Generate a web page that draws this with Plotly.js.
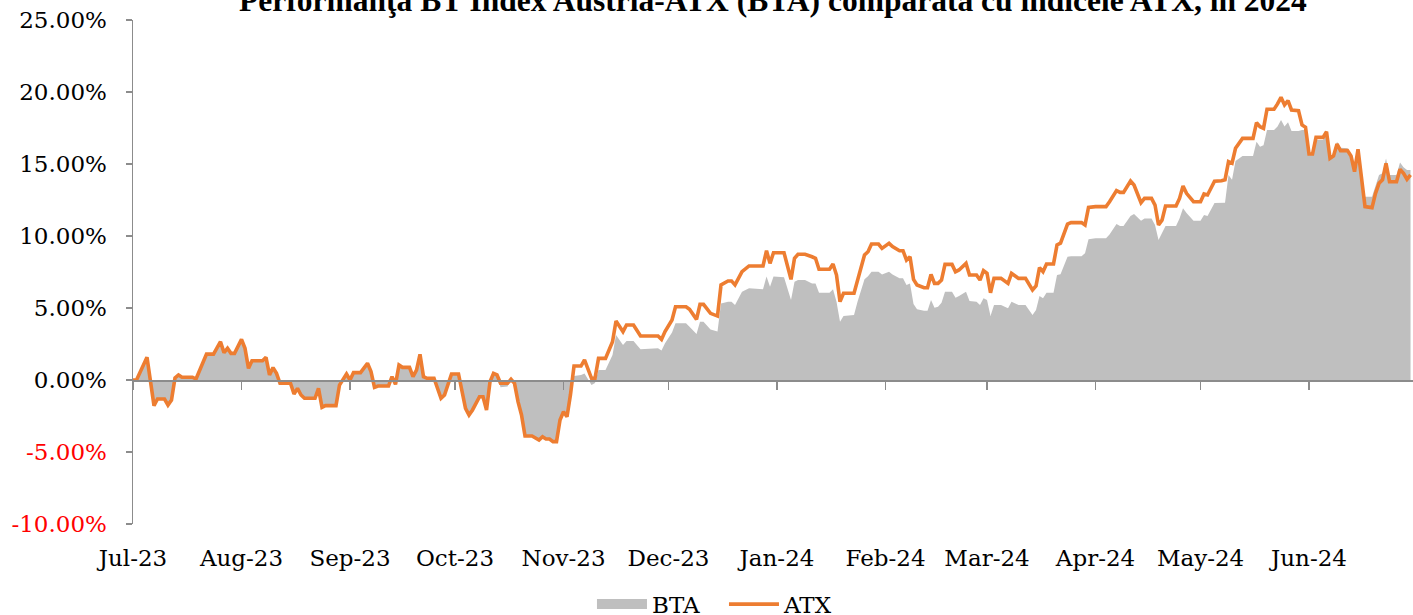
<!DOCTYPE html>
<html><head><meta charset="utf-8">
<script src="https://cdn.plot.ly/plotly-3.0.1.min.js"></script>
<style>html,body{margin:0;padding:0;background:#fff}#chart{width:1413px;height:615px}</style>
</head><body><div id="chart"></div>
<script>
const chartTitle = 'Performanţa BT Index Austria-ATX (BTA) comparată cu indicele ATX, în 2024';
const seriesNames = ['BTA', 'ATX'];

const dates = [
'2023-07-01','2023-07-02','2023-07-05','2023-07-07','2023-07-08','2023-07-10','2023-07-11','2023-07-12','2023-07-13','2023-07-14',
'2023-07-15','2023-07-18','2023-07-19','2023-07-21','2023-07-22','2023-07-24','2023-07-26','2023-07-27','2023-07-28','2023-07-29',
'2023-07-30','2023-08-01','2023-08-02','2023-08-03','2023-08-04','2023-08-07','2023-08-08','2023-08-09','2023-08-10','2023-08-11',
'2023-08-12','2023-08-15','2023-08-16','2023-08-17','2023-08-18','2023-08-19','2023-08-22','2023-08-23','2023-08-24','2023-08-25',
'2023-08-28','2023-08-29','2023-08-31','2023-09-01','2023-09-02','2023-09-04','2023-09-06','2023-09-07','2023-09-08','2023-09-09',
'2023-09-12','2023-09-13','2023-09-14','2023-09-15','2023-09-16','2023-09-18','2023-09-19','2023-09-20','2023-09-21','2023-09-22',
'2023-09-23','2023-09-25','2023-09-27','2023-09-28','2023-09-30','2023-10-02','2023-10-04','2023-10-05','2023-10-06','2023-10-08',
'2023-10-09','2023-10-10','2023-10-11','2023-10-12','2023-10-13','2023-10-14','2023-10-16','2023-10-17','2023-10-18','2023-10-19',
'2023-10-20','2023-10-21','2023-10-23','2023-10-25','2023-10-26','2023-10-27','2023-10-28','2023-10-29','2023-10-30','2023-10-31',
'2023-11-01','2023-11-02','2023-11-03','2023-11-04','2023-11-06','2023-11-07','2023-11-09','2023-11-10','2023-11-11','2023-11-13',
'2023-11-15','2023-11-16','2023-11-18','2023-11-19','2023-11-21','2023-11-23','2023-11-28','2023-11-29','2023-11-30','2023-12-02',
'2023-12-03','2023-12-06','2023-12-07','2023-12-09','2023-12-10','2023-12-11','2023-12-13','2023-12-15','2023-12-16','2023-12-18',
'2023-12-19','2023-12-20','2023-12-22','2023-12-24','2023-12-28','2023-12-29','2023-12-30','2023-12-31','2024-01-03','2024-01-05',
'2024-01-06','2024-01-07','2024-01-09','2024-01-11','2024-01-12','2024-01-13','2024-01-16','2024-01-17','2024-01-18','2024-01-19',
'2024-01-20','2024-01-23','2024-01-24','2024-01-26','2024-01-27','2024-01-28','2024-01-30','2024-01-31','2024-02-02','2024-02-03',
'2024-02-05','2024-02-06','2024-02-07','2024-02-08','2024-02-09','2024-02-10','2024-02-12','2024-02-13','2024-02-14','2024-02-15',
'2024-02-16','2024-02-17','2024-02-18','2024-02-20','2024-02-21','2024-02-22','2024-02-24','2024-02-25','2024-02-27','2024-02-28',
'2024-02-29','2024-03-01','2024-03-02','2024-03-03','2024-03-05','2024-03-07','2024-03-08','2024-03-10','2024-03-12','2024-03-14',
'2024-03-15','2024-03-16','2024-03-17','2024-03-18','2024-03-20','2024-03-21','2024-03-22','2024-03-24','2024-03-25','2024-03-28',
'2024-03-29','2024-03-30','2024-04-01','2024-04-04','2024-04-05','2024-04-07','2024-04-08','2024-04-09','2024-04-11','2024-04-12',
'2024-04-14','2024-04-15','2024-04-17','2024-04-18','2024-04-19','2024-04-20','2024-04-21','2024-04-24','2024-04-25','2024-04-26',
'2024-04-27','2024-04-29','2024-05-01','2024-05-02','2024-05-03','2024-05-05','2024-05-07','2024-05-08','2024-05-09','2024-05-10',
'2024-05-11','2024-05-13','2024-05-16','2024-05-17','2024-05-18','2024-05-19','2024-05-20','2024-05-22','2024-05-23','2024-05-24',
'2024-05-25','2024-05-26','2024-05-27','2024-05-29','2024-05-30','2024-05-31','2024-06-01','2024-06-02','2024-06-03','2024-06-05',
'2024-06-06','2024-06-07','2024-06-08','2024-06-09','2024-06-10','2024-06-12','2024-06-13','2024-06-14','2024-06-15','2024-06-17',
'2024-06-19','2024-06-20','2024-06-21','2024-06-22','2024-06-23','2024-06-24','2024-06-26','2024-06-27','2024-06-28','2024-06-29',
'2024-06-30'];

// ATX performance, %
const atx = [
0.00,0.00,1.58,-1.78,-1.32,-1.32,-1.74,-1.39,0.14,0.35,
0.19,0.19,0.07,1.27,1.80,1.80,2.66,1.90,2.20,1.85,
1.85,2.82,2.20,0.81,1.34,1.34,1.57,0.35,0.86,0.46,
-0.23,-0.23,-0.97,-0.58,-1.04,-1.27,-1.27,-0.58,-1.90,-1.78,
-1.78,-0.35,0.42,0.00,0.51,0.51,1.16,0.58,-0.51,-0.42,
-0.42,0.23,-0.30,1.04,0.88,0.88,0.23,0.69,1.78,0.23,
0.12,0.12,-1.27,-1.04,0.42,0.42,-1.97,-2.43,-2.08,-1.16,
-1.16,-2.08,-0.12,0.46,0.35,-0.23,-0.23,0.05,-0.23,-1.50,
-2.43,-3.89,-3.89,-4.17,-3.94,-4.10,-4.10,-4.28,-4.28,-2.78,
-2.20,-2.55,-1.00,0.97,0.97,1.39,0.12,0.12,1.50,1.50,
2.66,4.10,3.36,3.82,3.82,3.06,3.06,2.82,3.36,4.17,
5.09,5.09,4.91,4.21,5.25,5.25,4.63,4.44,6.60,6.88,
6.88,6.60,7.52,7.92,7.92,8.98,8.10,8.84,8.84,6.99,
8.45,8.73,8.73,8.56,8.45,7.69,7.69,8.06,7.29,5.44,
6.02,6.02,6.94,8.68,8.91,9.44,9.44,9.14,9.49,9.26,
8.98,8.98,8.33,8.56,6.99,6.60,6.41,6.41,7.33,6.71,
6.71,6.94,8.03,8.03,7.52,7.64,8.10,7.29,7.29,6.94,
7.59,7.41,6.06,7.06,7.06,6.71,7.41,7.06,7.06,6.25,
6.53,7.80,7.52,8.06,8.06,9.38,9.50,10.83,10.93,10.93,
10.76,11.99,12.04,12.04,12.38,13.15,13.03,13.03,13.82,13.54,
12.31,12.61,12.61,12.15,10.76,11.10,12.08,12.08,12.61,13.47,
12.96,12.38,12.38,12.92,12.85,13.80,13.84,13.90,15.16,15.05,
16.09,16.78,16.78,17.87,17.59,17.48,18.80,18.80,19.17,19.63,
19.10,19.40,18.75,18.70,17.71,17.55,15.69,15.69,16.85,16.85,
17.24,15.39,15.56,16.39,15.93,15.93,15.56,14.47,16.02,12.04,
11.97,12.96,13.66,13.90,15.05,13.77,13.77,14.63,14.35,13.94,
14.24];

// BTA performance, %
const bta = [
0.00,0.00,1.58,-1.78,-1.32,-1.32,-1.74,-1.39,0.14,0.35,
0.19,0.19,0.07,1.27,1.80,1.80,2.66,1.90,2.20,1.85,
1.85,2.82,2.20,0.81,1.34,1.34,1.57,0.35,0.86,0.46,
-0.23,-0.23,-0.97,-0.58,-1.04,-1.27,-1.27,-0.58,-1.90,-1.78,
-1.78,-0.35,0.42,0.00,0.51,0.51,1.16,0.58,-0.51,-0.42,
-0.42,0.23,-0.30,1.04,0.88,0.88,0.23,0.69,1.78,0.23,
0.12,0.12,-1.27,-1.04,0.42,0.42,-1.97,-2.43,-2.08,-1.16,
-1.16,-2.08,-0.12,0.46,0.35,-0.50,-0.45,0.05,-0.23,-1.50,
-2.43,-3.89,-3.89,-4.17,-3.94,-4.10,-4.10,-4.28,-4.28,-2.78,
-2.20,-2.55,-1.00,0.28,0.35,0.46,-0.35,-0.20,0.69,0.69,
1.74,3.13,2.43,2.70,2.70,2.13,2.20,2.04,2.55,3.30,
3.94,3.94,3.70,3.19,4.05,4.05,3.50,3.36,5.32,5.44,
5.44,5.21,6.13,6.37,6.30,7.18,6.48,7.18,7.13,5.56,
6.83,6.94,6.94,6.71,6.71,6.06,6.06,6.30,5.44,4.05,
4.44,4.51,5.44,6.99,7.20,7.52,7.52,7.33,7.52,7.33,
7.06,7.06,6.60,6.70,5.28,4.91,4.81,4.81,5.56,5.02,
5.09,5.37,6.13,6.13,5.72,5.83,6.13,5.49,5.44,5.21,
5.67,5.56,4.44,5.21,5.21,4.98,5.44,5.21,5.21,4.51,
4.86,5.83,5.67,6.06,6.06,7.29,7.35,8.56,8.60,8.60,
8.80,9.77,9.84,9.84,10.10,10.83,10.69,10.69,11.39,11.53,
11.06,11.22,11.22,10.76,9.72,10.19,10.69,10.69,11.22,11.92,
11.60,11.06,11.06,11.46,11.39,12.30,12.31,12.31,14.24,13.90,
15.20,15.56,15.56,16.55,16.20,16.30,17.36,17.36,17.60,18.06,
17.60,17.90,17.29,17.29,17.36,17.36,15.60,15.69,16.67,16.67,
17.10,15.46,15.60,16.55,16.13,16.09,15.60,14.58,15.97,12.73,
12.73,13.43,14.24,14.35,15.39,14.24,14.24,15.10,14.77,14.58,
14.58];

const yTickValues = [-10, -5, 0, 5, 10, 15, 20, 25];
const yTickLabels = ['-10.00%', '-5.00%', '0.00%', '5.00%', '10.00%', '15.00%', '20.00%', '25.00%'];

const GREY = '#BFBFBF', ORANGE = '#ED7D31', AXIS = '#8C8C8C';
const FONT = 'DejaVu Serif';

const yTickText = yTickValues.map((v, i) =>
  v < 0 ? '<span style="color:#FF0000">' + yTickLabels[i] + '</span>' : yTickLabels[i]);

const traces = [
  {x: dates, y: bta, type: 'scatter', mode: 'lines', fill: 'tozeroy',
   fillcolor: GREY, line: {width: 0, color: GREY}, showlegend: false, hoverinfo: 'skip'},
  {x: dates, y: atx, type: 'scatter', mode: 'lines', name: seriesNames[1],
   line: {color: ORANGE, width: 3.6}, showlegend: false},
  {x: [null], y: [null], type: 'scatter', mode: 'lines', name: seriesNames[0],
   line: {color: GREY, width: 14}, legendrank: 1},
  {x: [null], y: [null], type: 'scatter', mode: 'lines', name: seriesNames[1],
   line: {color: ORANGE, width: 3.6}, legendrank: 2},
  {x: [dates[0]], y: [null], type: 'scatter', mode: 'lines', xaxis: 'x2',
   showlegend: false, hoverinfo: 'skip'}
];

const layout = {
  width: 1413, height: 615,
  margin: {l: 133, r: 0, t: 20, b: 91, autoexpand: false},
  paper_bgcolor: '#FFFFFF', plot_bgcolor: '#FFFFFF',
  title: {text: chartTitle, font: {family: 'Liberation Serif', size: 31.5, color: '#000', weight: 'bold'},
    x: 0.5, xref: 'paper', xanchor: 'center', y: 0.982, yref: 'container', yanchor: 'bottom'},
  xaxis: {type: 'date', range: ['2023-07-01', '2024-06-30 17:00'], tick0: '2023-07-01', dtick: 'M1',
    tickformat: '%b-%y', showline: false, showgrid: false, zeroline: false, ticks: '',
    ticklabelstandoff: 18, tickfont: {family: FONT, size: 23, color: '#000'}},
  xaxis2: {matches: 'x', overlaying: 'x', anchor: 'free', position: 10 / 35, side: 'bottom',
    showline: true, linecolor: AXIS, linewidth: 1.5, ticks: 'outside', ticklen: 8, tickwidth: 1.5,
    tickcolor: AXIS, showticklabels: false, showgrid: false, zeroline: false,
    tick0: '2023-07-01', dtick: 'M1'},
  yaxis: {range: [-10, 25], tickmode: 'array', tickvals: yTickValues, ticktext: yTickText,
    showline: true, linecolor: AXIS, linewidth: 1.5, ticks: 'outside', ticklen: 6, tickwidth: 1.5,
    tickcolor: AXIS, showgrid: false, zeroline: false, ticklabelstandoff: 14,
    tickfont: {family: FONT, size: 23, color: '#000'}},
  showlegend: true,
  legend: {orientation: 'h', x: 0.4617, xanchor: 'center', y: -0.159, yanchor: 'middle',
    font: {family: FONT, size: 23, color: '#000'}, itemwidth: 50, bgcolor: 'rgba(0,0,0,0)',
    entrywidth: 67, entrywidthmode: 'pixels', traceorder: 'normal'}
};

Plotly.newPlot('chart', traces, layout, {displayModeBar: false, staticPlot: true});
</script>
</body></html>
